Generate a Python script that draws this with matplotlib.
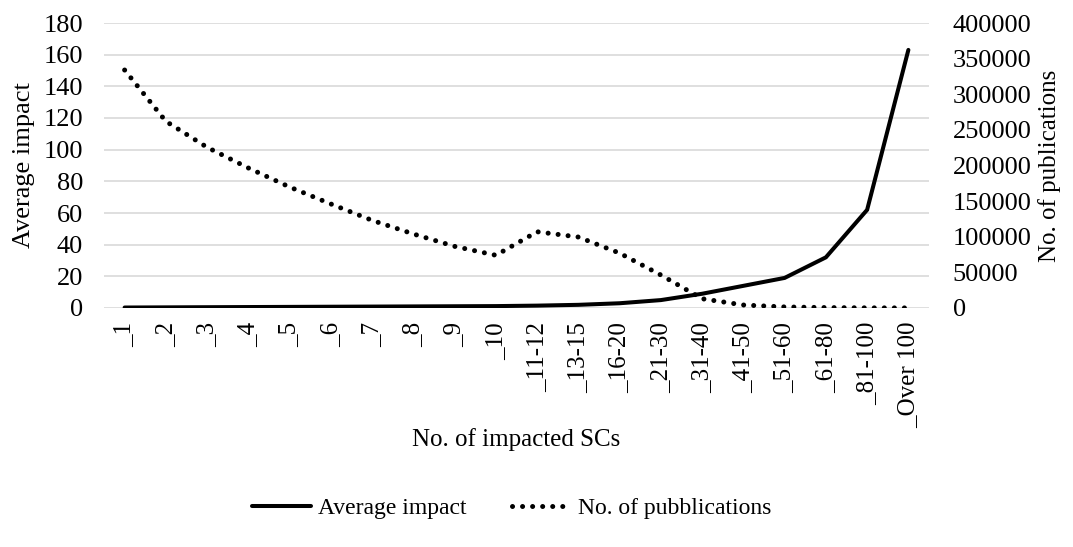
import matplotlib.pyplot as plt

plt.rcParams['font.family'] = ['Liberation Serif', 'DejaVu Serif']

categories = ['1', '2', '3', '4', '5', '6', '7', '8', '9', '10',
              '11-12', '13-15', '16-20', '21-30', '31-40', '41-50',
              '51-60', '61-80', '81-100', 'Over 100']
avg_impact = [0.3, 0.4, 0.5, 0.6, 0.7, 0.8, 0.9, 1.0, 1.1, 1.2,
              1.5, 2.0, 3.0, 5.0, 9.0, 14.0, 19.0, 32.0, 62.0, 163.0]
n_pubs = [334000, 262000, 225500, 196500, 169800, 146000, 123000, 103900, 86500, 74000,
          107000, 99600, 77000, 46300, 13000, 4200, 1500, 600, 200, 100]

x = list(range(len(categories)))
labels = ['_' + c for c in categories]

fig = plt.figure(figsize=(10.73, 5.47), dpi=100)
ax = fig.add_axes([104 / 1073, 1 - 308 / 547, (929 - 104) / 1073, (308 - 23) / 547])
ax2 = ax.twinx()

ax.plot(x, avg_impact, color='black', lw=2.9, solid_capstyle='round',
        solid_joinstyle='miter', label='Average impact', zorder=3)
ax2.plot(x, n_pubs, color='black', lw=3.6, linestyle=(0, (0.01, 2.0)),
         dash_capstyle='round', label='No. of pubblications', zorder=3)

ax.set_xlim(-0.5, len(categories) - 0.5)
ax.set_ylim(0, 180)
ax2.set_ylim(0, 400000)
ax.set_yticks(range(0, 181, 20))
ax2.set_yticks(range(0, 400001, 50000))
ax.set_xticks(x)
ax.set_xticklabels(labels, rotation=90, fontsize=18)

ax.grid(axis='y', color='#d9d9d9', lw=1.2)
ax.set_axisbelow(True)
for a in (ax, ax2):
    for s in a.spines.values():
        s.set_visible(False)
    a.tick_params(length=0, labelsize=19)
ax.tick_params(axis='x', pad=10, labelsize=18)
ax.tick_params(axis='y', pad=15)
ax2.tick_params(axis='y', pad=17)

ax.set_ylabel('Average impact', fontsize=19, labelpad=6)
ax2.set_ylabel('No. of publications', fontsize=18, labelpad=5)
ax.set_xlabel('No. of impacted SCs', fontsize=18, labelpad=0)

h1, l1 = ax.get_legend_handles_labels()
h2, l2 = ax2.get_legend_handles_labels()
fig.legend(h1 + h2, l1 + l2, loc='center', bbox_to_anchor=(0.477, 0.07),
           ncol=2, frameon=False, fontsize=17, handlelength=2.5,
           handletextpad=0.3, columnspacing=1.9)

fig.savefig('out.png', dpi=100)
